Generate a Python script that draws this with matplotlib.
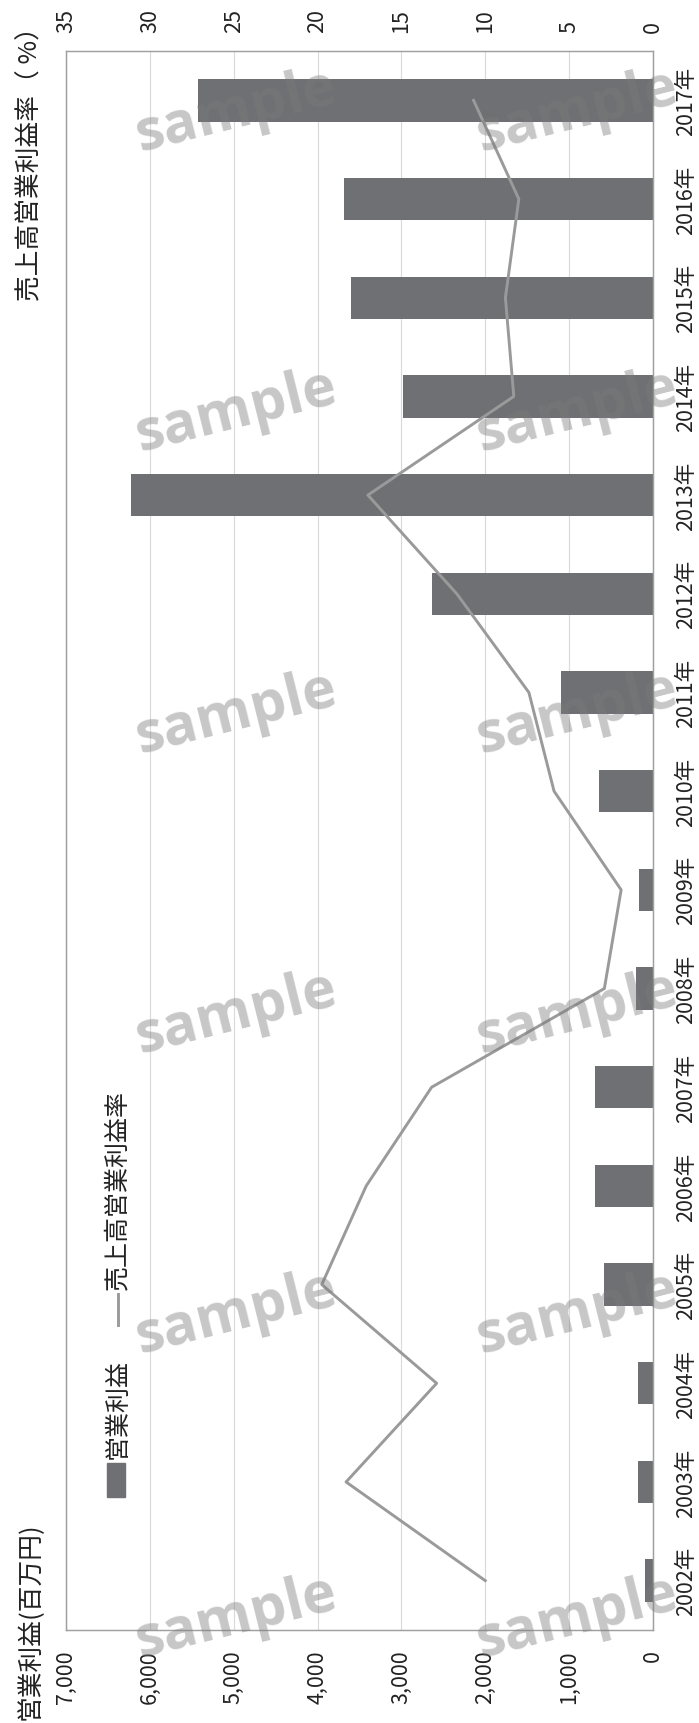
import numpy as np
import matplotlib
matplotlib.use("Agg")
import matplotlib.pyplot as plt
from matplotlib.patches import Rectangle
from matplotlib.lines import Line2D

plt.rcParams['font.family'] = ['Noto Sans CJK JP', 'DejaVu Sans']

# データ
years = ["2002年", "2003年", "2004年", "2005年", "2006年", "2007年", "2008年", "2009年",
         "2010年", "2011年", "2012年", "2013年", "2014年", "2015年", "2016年", "2017年"]
profit = [100, 180, 180, 590, 690, 690, 200, 170,
          640, 1100, 2640, 6230, 2980, 3600, 3690, 5420]
margin = [10.0, 18.3, 12.9, 19.75, 17.1, 13.2, 2.9, 1.9,
          5.9, 7.4, 11.7, 17.0, 8.3, 8.8, 8.0, 10.7]
profit_ticks = [0, 1000, 2000, 3000, 4000, 5000, 6000, 7000]
margin_ticks = [0, 5, 10, 15, 20, 25, 30, 35]

bar_color = "#6f7074"
line_color = "#9a9a9a"

fig = plt.figure(figsize=(6.99, 17.24), dpi=100)
ax = fig.add_axes([66 / 699, 93 / 1724, 587 / 699, 1579 / 1724])
ax2 = ax.twiny()

pos = np.arange(len(years))

# 営業利益（棒）
ax.barh(pos, profit, height=0.43, color=bar_color, zorder=2)
ax.set_xlim(7000, 0)
ax.set_ylim(-0.5, len(years) - 0.5)
ax.set_xticks(profit_ticks)
ax.set_xticklabels([f"{v:,}" for v in profit_ticks], rotation=90, fontsize=15.5)
ax.set_yticks(pos)
ax.set_yticklabels(years, rotation=90, va="center", fontsize=15.5)
ax.yaxis.tick_right()
ax.tick_params(axis="x", length=0, pad=14, colors="#222222")
ax.tick_params(axis="y", length=0, pad=16, colors="#222222")
ax.grid(axis="x", color="#d9d9d9", lw=0.8, zorder=0)
ax.set_axisbelow(True)

# 売上高営業利益率（折れ線）
ax2.plot(margin, pos, color=line_color, lw=2.1, zorder=3)
ax2.set_xlim(35, 0)
ax2.set_xticks(margin_ticks)
ax2.set_xticklabels([str(v) for v in margin_ticks], rotation=90, fontsize=15.5)
ax2.tick_params(axis="x", length=0, pad=14, colors="#222222")

for a in (ax, ax2):
    for sp in a.spines.values():
        sp.set_color("#a0a0a0")
        sp.set_linewidth(0.9)

# 軸タイトル
fig.text(30 / 699, 4 / 1724, "営業利益(百万円)", rotation=90, ha="center", va="bottom",
         fontsize=18.5, color="#222222")
fig.text(30 / 699, 1 - 14 / 1724, "売上高営業利益率（ %）", rotation=90, ha="center", va="top",
         fontsize=18.5, color="#222222")

# 凡例
ax.add_patch(Rectangle((0.07, 0.084), 0.031, 0.022, transform=ax.transAxes,
                       color=bar_color, zorder=5, clip_on=False))
ax.text(0.088, 0.109, "営業利益", transform=ax.transAxes, rotation=90,
        ha="center", va="bottom", fontsize=18, color="#222222")
ax.add_line(Line2D([0.088, 0.088], [0.193, 0.213], transform=ax.transAxes,
                   color=line_color, lw=2.1))
ax.text(0.088, 0.216, "売上高営業利益率", transform=ax.transAxes, rotation=90,
        ha="center", va="bottom", fontsize=18, color="#222222")

# 透かし
for yy in [112, 412, 714, 1014, 1314, 1618]:
    for xx in [236, 577]:
        fig.text(xx / 699, 1 - yy / 1724, "sample", rotation=14, ha="center", va="center",
                 fontsize=41, fontweight="bold", family="Open Sans",
                 color="#7a7a7a", alpha=0.42, zorder=20)

fig.savefig("out.png", dpi=100)
